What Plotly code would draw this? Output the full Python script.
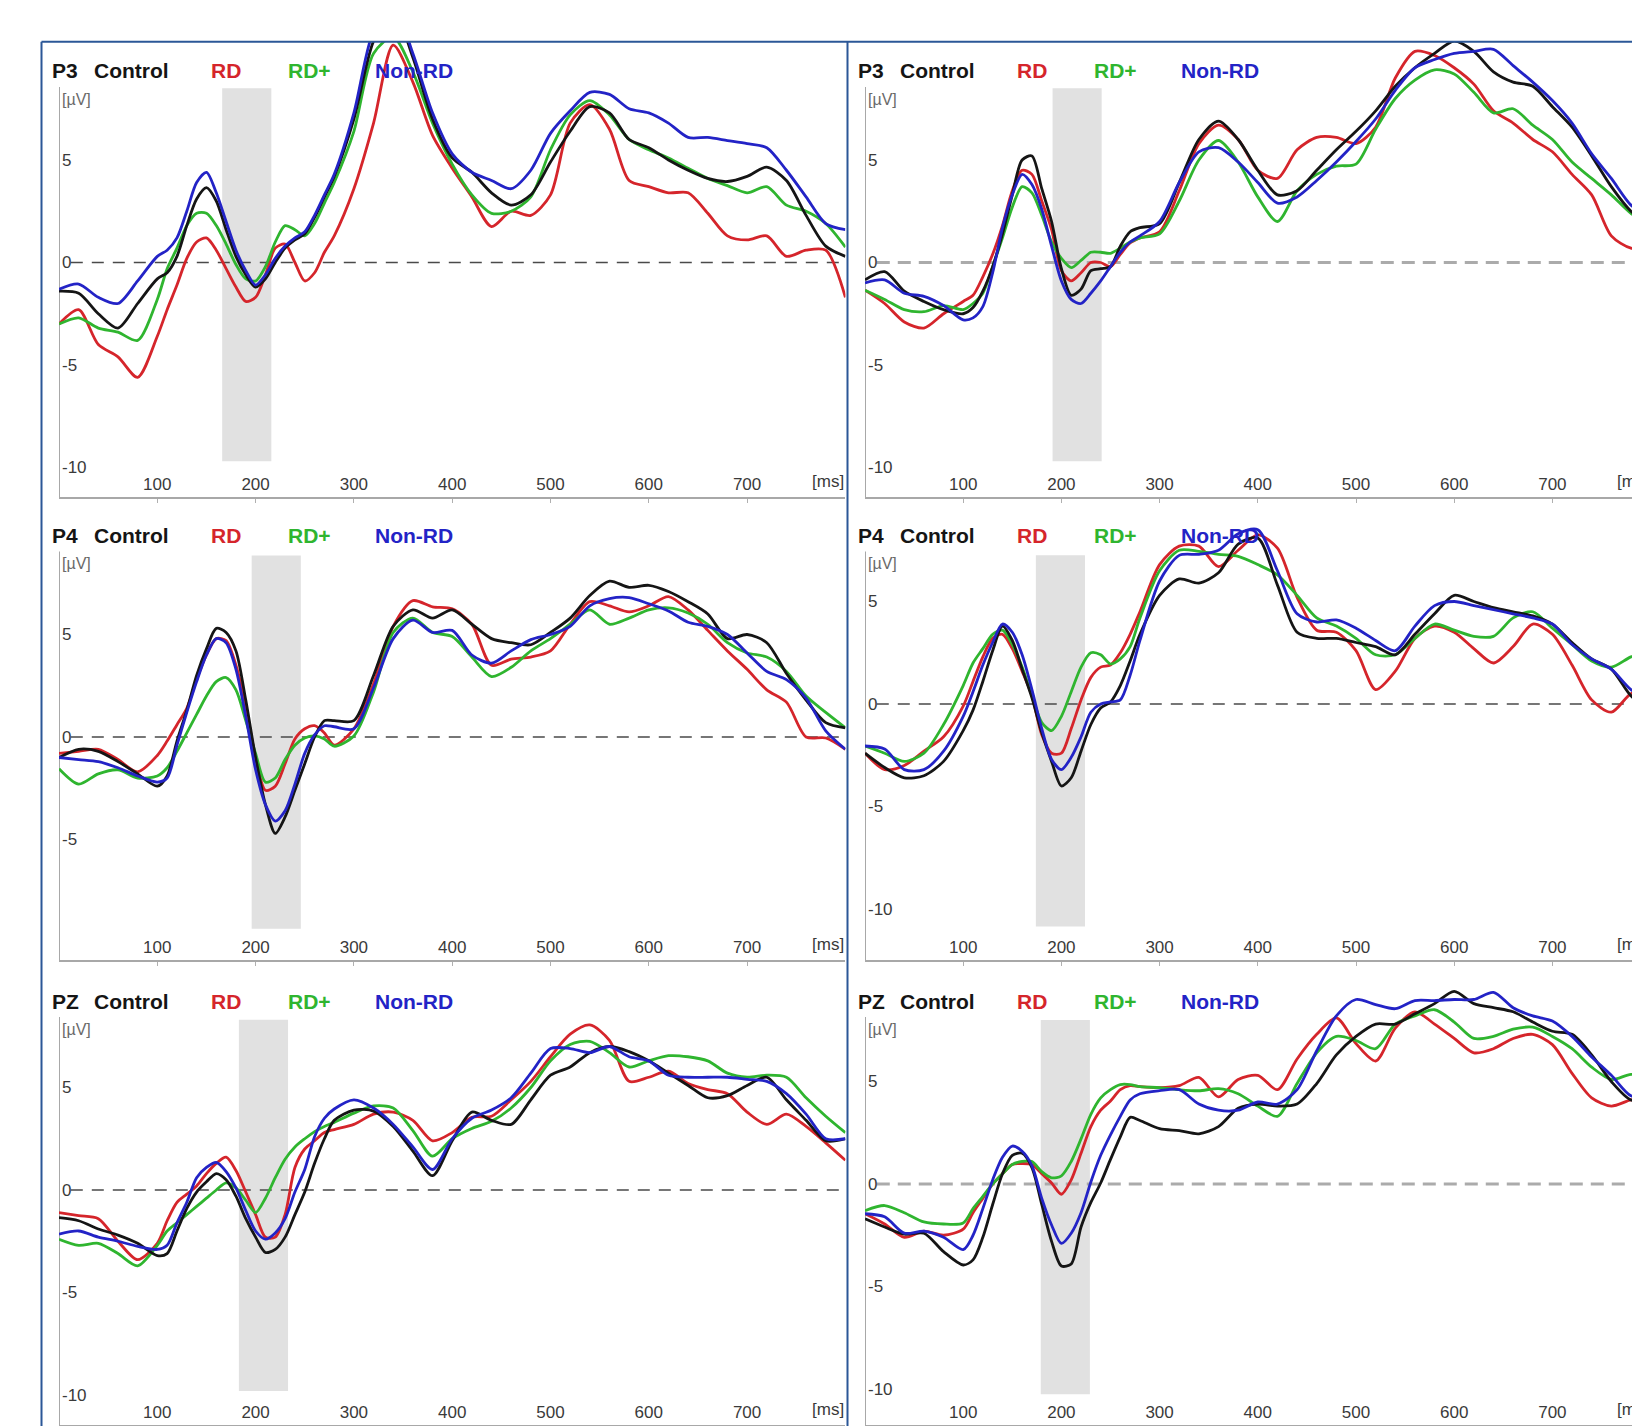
import plotly.graph_objects as go

# ---------------- data ----------------
t_ms = [0, 20, 40, 60, 80, 100, 110, 120, 130, 140, 150, 160, 170, 180, 190, 200, 210,
        220, 230, 240, 250, 260, 270, 280, 300, 320, 340, 360, 380, 400, 420, 440, 460,
        480, 500, 520, 540, 560, 580, 600, 620, 640, 660, 680, 700, 720, 740, 760, 780, 800]

groups = ["Control", "RD", "RD+", "Non-RD"]

# P3 (left column)
p3_left_control = [-1.4, -1.5, -2.5, -3.2, -2.0, -0.8, -0.5, 0.3, 1.8, 3.1, 3.65, 3.0, 1.6, 0.3, -0.6, -1.2, -0.8, 0.0, 0.7, 1.1, 1.4, 2.2, 3.2, 4.2,
                   7.0, 10.8, 12.3, 10.0, 7.0, 5.1, 4.4, 3.4, 2.8, 3.3, 4.9, 6.4, 7.6, 7.3, 6.0, 5.6, 5.0, 4.5, 4.1, 3.95, 4.2, 4.65, 4.0, 2.3, 0.8, 0.3]
p3_left_rd = [-3.0, -2.3, -4.0, -4.6, -5.6, -3.6, -2.3, -1.1, 0.2, 1.0, 1.2, 0.6, -0.3, -1.2, -1.9, -1.7, -0.6, 0.7, 0.9, 0.0, -0.9, -0.5, 0.5, 1.3,
              3.6, 6.8, 10.6, 8.8, 6.2, 4.6, 3.2, 1.75, 2.5, 2.3, 3.3, 6.8, 7.7, 6.5, 4.0, 3.7, 3.4, 3.4, 2.4, 1.3, 1.1, 1.3, 0.3, 0.6, 0.6, -1.7]
p3_left_rdplus = [-3.0, -2.7, -3.2, -3.4, -3.8, -1.8, -0.3, 0.7, 1.8, 2.4, 2.4, 1.8, 0.9, -0.1, -0.8, -0.9, -0.2, 1.0, 1.8, 1.6, 1.3, 1.9, 2.9, 3.9,
                  6.4, 10.2, 11.0, 9.3, 6.8, 4.8, 3.3, 2.4, 2.5, 3.2, 5.5, 7.2, 7.9, 7.2, 6.0, 5.5, 5.1, 4.6, 4.1, 3.75, 3.4, 3.7, 2.8, 2.5, 1.9, 0.75]
p3_left_nonrd = [-1.3, -1.05, -1.7, -2.0, -0.9, 0.3, 0.6, 1.2, 2.5, 3.9, 4.4, 3.4, 2.0, 0.6, -0.4, -1.1, -0.6, 0.2, 0.8, 1.2, 1.5, 2.3, 3.3, 4.3,
                 7.3, 11.3, 12.5, 10.2, 7.3, 5.3, 4.4, 4.0, 3.6, 4.5, 6.3, 7.4, 8.3, 8.2, 7.5, 7.3, 6.8, 6.1, 6.1, 5.95, 5.8, 5.6, 4.5, 3.2, 1.9, 1.6]

# P3 (right column)
p3_right_control = [-0.85, -0.45, -1.4, -1.9, -2.3, -2.5, -2.2, -1.4, -0.2, 1.4, 3.3, 5.0, 5.2, 3.6, 2.0, -0.3, -1.6, -1.3, -0.4, -0.3, -0.2, 0.8, 1.5, 1.7,
                    1.9, 3.9, 6.0, 6.9, 6.0, 4.5, 3.3, 3.5, 4.5, 5.5, 6.4, 7.4, 8.6, 9.5, 10.2, 10.8, 10.3, 9.3, 8.8, 8.6, 7.6, 6.6, 5.2, 3.7, 2.5, 1.8]
p3_right_rd = [-1.35, -2.0, -2.9, -3.2, -2.5, -1.9, -1.6, -0.7, 0.4, 1.8, 3.5, 4.5, 4.3, 3.0, 1.6, -0.4, -0.9, -0.5, 0.0, 0.0, -0.2, 0.4, 0.95, 1.2,
               1.5, 3.5, 5.8, 6.7, 6.0, 4.5, 4.1, 5.5, 6.1, 6.1, 5.8, 6.6, 9.0, 10.3, 10.1, 9.5, 8.7, 7.4, 6.8, 6.0, 5.4, 4.3, 3.3, 1.3, 0.7, 0.7]
p3_right_rdplus = [-1.35, -1.8, -2.3, -2.4, -2.1, -2.3, -2.0, -1.5, -0.2, 1.2, 2.7, 3.7, 3.4, 2.3, 1.0, 0.2, -0.25, 0.1, 0.5, 0.5, 0.45, 0.7, 1.0, 1.2,
                   1.4, 3.0, 5.0, 5.95, 4.9, 3.2, 2.0, 3.5, 4.3, 4.7, 4.8, 6.5, 8.0, 8.9, 9.4, 9.2, 8.3, 7.3, 7.5, 6.7, 6.0, 4.9, 4.1, 3.3, 2.4, 1.8]
p3_right_nonrd = [-1.0, -0.85, -1.5, -1.65, -2.1, -2.8, -2.7, -2.15, -0.5, 1.7, 3.3, 4.3, 3.8, 2.6, 0.8, -0.9, -1.8, -2.0, -1.5, -0.9, -0.2, 0.5, 1.0, 1.3,
                  2.0, 3.9, 5.4, 5.6, 4.9, 3.9, 2.9, 3.2, 4.0, 4.9, 5.9, 7.0, 8.4, 9.5, 9.9, 10.2, 10.3, 10.4, 9.6, 8.8, 7.9, 6.8, 5.3, 4.1, 2.8, 2.2]

# P4 (left column)
p4_left_control = [-1.0, -0.6, -0.7, -1.2, -1.8, -2.4, -1.9, -0.2, 1.3, 3.0, 4.3, 5.3, 5.1, 4.2, 1.8, -1.0, -3.3, -4.7, -3.9, -2.6, -1.3, 0.0, 0.8, 0.8,
                   0.8, 3.0, 5.4, 6.2, 5.8, 6.2, 5.5, 4.8, 4.6, 4.5, 5.1, 5.8, 6.9, 7.6, 7.3, 7.4, 7.1, 6.6, 6.0, 4.8, 5.0, 4.6, 3.1, 1.8, 0.7, 0.45]
p4_left_rd = [-0.8, -0.7, -0.6, -1.1, -1.7, -0.9, -0.2, 0.6, 1.4, 2.8, 4.0, 4.8, 4.7, 3.5, 1.5, -1.0, -2.6, -2.4, -1.3, -0.1, 0.4, 0.55, 0.2, -0.4,
              0.4, 2.6, 5.4, 6.65, 6.35, 6.25, 5.5, 3.5, 3.8, 3.9, 4.2, 5.5, 6.6, 6.4, 6.1, 6.4, 6.85, 6.2, 5.2, 4.2, 3.3, 2.3, 1.7, 0.0, -0.05, -0.6]
p4_left_rdplus = [-1.55, -2.3, -1.8, -1.6, -2.0, -1.9, -1.5, -0.7, 0.2, 1.1, 2.0, 2.7, 2.9, 2.3, 0.8, -0.8, -2.2, -2.0, -1.1, -0.4, -0.05, 0.05, -0.1, -0.45,
                  0.05, 2.2, 5.1, 5.8, 5.1, 4.9, 3.9, 2.95, 3.4, 4.2, 4.8, 5.5, 6.2, 5.5, 5.8, 6.2, 6.3, 6.05, 5.5, 4.6, 4.1, 3.9, 3.2, 2.0, 1.2, 0.45]
p4_left_nonrd = [-1.0, -1.1, -1.2, -1.5, -1.9, -2.2, -2.0, -0.4, 1.2, 2.7, 4.0, 4.8, 4.6, 3.3, 1.0, -1.6, -3.3, -4.1, -3.6, -2.3, -0.8, 0.1, 0.55, 0.5,
                 0.4, 2.4, 4.8, 5.7, 5.1, 5.2, 4.0, 3.6, 4.2, 4.75, 5.0, 5.4, 6.4, 6.75, 6.8, 6.5, 6.15, 5.6, 5.4, 5.0, 4.1, 3.2, 2.8, 1.9, 0.3, -0.6]

# P4 (right column)
p4_right_control = [-2.4, -3.1, -3.6, -3.5, -2.8, -1.3, -0.3, 1.1, 2.6, 3.8, 3.1, 1.7, 0.3, -1.4, -2.8, -4.0, -3.6, -2.3, -1.0, -0.2, 0.1, 0.9, 2.1, 3.4,
                    5.3, 6.1, 5.9, 6.4, 7.8, 8.1, 5.8, 3.5, 3.2, 3.2, 3.0, 2.8, 2.4, 3.4, 4.4, 5.3, 5.0, 4.7, 4.5, 4.3, 3.9, 3.0, 2.2, 1.7, 0.4, -0.3]
p4_right_rd = [-2.4, -3.2, -3.0, -2.3, -1.6, -0.1, 1.1, 2.3, 3.2, 3.4, 2.7, 1.6, 0.4, -1.5, -2.4, -2.4, -1.2, 0.2, 1.3, 1.8, 1.9, 2.5, 3.4, 4.5,
               6.8, 7.7, 7.7, 6.7, 7.5, 8.25, 7.6, 5.2, 3.6, 3.5, 2.6, 0.7, 1.6, 3.2, 3.8, 3.5, 2.7, 2.0, 2.8, 3.9, 3.4, 1.9, 0.2, -0.4, 0.5, 0.7]
p4_right_rdplus = [-2.05, -2.4, -2.8, -2.4, -1.0, 0.9, 2.0, 2.7, 3.4, 3.6, 2.9, 1.8, 0.4, -0.9, -1.3, -0.6, 0.6, 1.8, 2.5, 2.4, 1.95, 2.2, 2.8, 4.2,
                   6.5, 7.5, 7.45, 7.3, 7.2, 6.8, 6.3, 5.3, 4.2, 3.8, 3.2, 2.4, 2.4, 3.2, 3.9, 3.6, 3.3, 3.3, 4.2, 4.5, 3.7, 2.9, 2.1, 1.8, 2.3, 2.6]
p4_right_nonrd = [-2.05, -2.2, -3.2, -3.2, -2.3, -0.6, 0.6, 1.9, 3.0, 3.9, 3.5, 2.4, 0.7, -1.2, -2.7, -3.2, -2.6, -1.6, -0.4, 0.0, 0.1, 0.2, 1.4, 3.1,
                  6.0, 7.25, 7.3, 7.5, 8.3, 8.5, 6.5, 4.4, 4.0, 4.1, 3.7, 3.1, 2.6, 3.8, 4.8, 5.0, 4.8, 4.6, 4.4, 4.2, 3.9, 2.9, 2.2, 1.7, 0.7, 0.2]

# PZ (left column)
pz_left_control = [-1.35, -1.5, -1.9, -2.2, -2.6, -3.2, -3.1, -2.0, -0.9, -0.1, 0.4, 0.8, 0.5, -0.3, -1.4, -2.3, -3.05, -2.9, -2.3, -1.2, -0.1, 1.3, 2.5, 3.4,
                   3.9, 3.85, 3.1, 1.9, 0.7, 2.4, 3.8, 3.4, 3.2, 4.4, 5.6, 6.0, 6.7, 7.0, 6.75, 6.3, 5.7, 5.1, 4.5, 4.6, 5.1, 5.5, 4.4, 3.4, 2.4, 2.5]
pz_left_rd = [-1.1, -1.25, -1.4, -2.5, -3.4, -2.6, -1.5, -0.6, -0.2, 0.2, 0.8, 1.3, 1.6, 0.95, -0.1, -1.2, -2.3, -2.3, -1.2, 1.1, 2.0, 2.4, 2.8, 2.95,
              3.2, 3.7, 3.8, 3.4, 2.4, 2.8, 3.55, 3.6, 4.4, 5.3, 6.5, 7.6, 8.05, 7.3, 5.3, 5.5, 5.8, 5.2, 4.9, 4.7, 3.8, 3.2, 3.7, 3.1, 2.3, 1.45]
pz_left_rdplus = [-2.4, -2.7, -2.6, -3.1, -3.7, -2.7, -2.0, -1.6, -1.2, -0.8, -0.4, 0.0, 0.35, 0.1, -0.5, -1.1, -0.4, 0.6, 1.5, 2.1, 2.5, 2.85, 3.1, 3.3,
                  3.75, 4.1, 4.0, 2.9, 1.65, 2.5, 3.0, 3.35, 4.0, 5.0, 6.3, 7.1, 7.25, 6.7, 6.0, 6.3, 6.55, 6.5, 6.3, 5.7, 5.5, 5.6, 5.5, 4.5, 3.6, 2.8]
pz_left_nonrd = [-2.15, -2.0, -2.3, -2.5, -2.75, -2.9, -2.7, -1.6, -0.6, 0.6, 1.1, 1.35, 0.9, 0.1, -1.0, -2.0, -2.4, -2.1, -1.4, -0.1, 1.0, 2.6, 3.5, 3.95,
                 4.4, 4.0, 3.2, 2.1, 1.0, 2.5, 3.5, 3.9, 4.5, 5.7, 6.9, 6.9, 6.7, 7.0, 6.5, 6.3, 5.6, 5.5, 5.5, 5.5, 5.4, 5.3, 4.7, 3.7, 2.5, 2.5]

# PZ (right column)
pz_right_control = [-1.7, -2.1, -2.45, -2.4, -3.3, -3.95, -3.7, -2.6, -1.0, 0.5, 1.4, 1.5, 0.8, -1.0, -2.8, -4.0, -3.9, -2.1, -0.9, 0.05, 1.2, 2.3, 3.25, 3.1,
                    2.7, 2.6, 2.45, 2.8, 3.7, 3.9, 3.8, 3.9, 4.9, 6.3, 7.2, 7.8, 7.8, 8.3, 8.8, 9.4, 8.8, 8.6, 8.4, 7.9, 7.45, 7.3, 6.3, 5.0, 4.1, 4.1]
pz_right_rd = [-1.45, -1.95, -2.6, -2.3, -2.5, -2.2, -1.4, -0.7, 0.0, 0.5, 0.95, 1.0, 0.95, 0.5, 0.05, -0.5, 0.2, 1.5, 2.8, 3.6, 4.05, 4.6, 4.8, 4.75,
               4.7, 4.8, 5.2, 4.25, 5.1, 5.3, 4.6, 6.1, 7.3, 8.1, 6.85, 6.0, 7.6, 8.4, 7.8, 7.1, 6.4, 6.6, 7.1, 7.3, 6.8, 5.4, 4.2, 3.8, 4.1, 4.2]
pz_right_rdplus = [-1.3, -1.05, -1.4, -1.85, -1.95, -1.9, -1.2, -0.6, 0.0, 0.5, 0.95, 1.1, 1.1, 0.6, 0.3, 0.4, 1.1, 2.2, 3.4, 4.2, 4.6, 4.85, 4.85, 4.75,
                   4.7, 4.6, 4.55, 4.65, 4.4, 3.8, 3.3, 4.9, 6.4, 7.2, 7.0, 6.6, 7.8, 8.2, 8.5, 7.9, 7.1, 7.2, 7.55, 7.65, 7.2, 6.6, 5.7, 5.1, 5.35, 5.2]
pz_right_nonrd = [-1.45, -1.6, -2.4, -2.3, -2.6, -3.2, -2.5, -1.2, 0.2, 1.3, 1.85, 1.6, 0.9, -0.7, -2.0, -2.9, -2.4, -1.4, 0.1, 1.4, 2.4, 3.3, 4.1, 4.4,
                  4.55, 4.6, 3.9, 3.6, 3.6, 4.0, 3.9, 4.6, 6.5, 8.2, 9.0, 8.75, 8.55, 8.95, 8.95, 9.0, 9.0, 9.35, 8.6, 8.2, 7.95, 7.2, 6.2, 5.3, 4.3, 4.2]

# shaded analysis windows [ms] and their vertical extent [µV]
window_start = [166, 191, 196, 174, 183, 179]
window_end = [216, 241, 246, 224, 233, 229]
window_top = [8.5, 8.5, 8.85, 7.25, 8.3, 8.0]
window_bottom = [-9.7, -9.7, -9.35, -10.85, -9.8, -10.25]

electrodes = ["P3", "P3", "P4", "P4", "PZ", "PZ"]
x_ticks = [100, 200, 300, 400, 500, 600, 700]
y_ticks = [-10, -5, 0, 5]
y_tick_text = ["-10", "-5", "0", "5"]

series = [
    [p3_left_control, p3_left_rd, p3_left_rdplus, p3_left_nonrd],
    [p3_right_control, p3_right_rd, p3_right_rdplus, p3_right_nonrd],
    [p4_left_control, p4_left_rd, p4_left_rdplus, p4_left_nonrd],
    [p4_right_control, p4_right_rd, p4_right_rdplus, p4_right_nonrd],
    [pz_left_control, pz_left_rd, pz_left_rdplus, pz_left_nonrd],
    [pz_right_control, pz_right_rd, pz_right_rdplus, pz_right_nonrd],
]

# ---------------- layout geometry (page pixels) ----------------
W, H = 1640, 1426
OFF = 8          # browser body margin offsets the figure on the page
PX_PER_UV = 20.5
col_x0 = [59, 865]
col_px_per_ms = [0.983, 0.982]
col_x1 = [59 + 0.983 * 800, W + OFF]
# per panel: zero-line px, domain top px, domain bottom px, title y px
panel_geom = [
    (262.5, 42, 497, 71),
    (262.5, 42, 497, 71),
    (737, 510, 960, 535.5),
    (704, 510, 960, 535.5),
    (1190, 975, 1425, 1001),
    (1184, 975, 1425, 1001),
]
title_dx = [50, 92, 209, 285.5, 373]
col_shift = [0, 806]

colors = ["#151515", "#d5252b", "#2fb52f", "#2323c6"]
draw_order = [1, 2, 0, 3]

FONT = "Liberation Sans, Arial, sans-serif"


def px_x(p):
    return min(1.0, max(0.0, (p - OFF) / W))


def px_y(p):
    return min(1.0, max(0.0, 1 - (p - OFF) / H))


fig = go.Figure()
shapes = []
annotations = []

for i in range(6):
    col = i % 2
    zero_px, top_px, bot_px, title_px = panel_geom[i]
    ax = "" if i == 0 else str(i + 1)
    xref, yref = "x" + ax, "y" + ax
    xmax = (col_x1[col] - col_x0[col]) / col_px_per_ms[col]
    ytop = (zero_px - top_px) / PX_PER_UV
    ybot = (zero_px - bot_px) / PX_PER_UV

    fig.update_layout(**{
        "xaxis" + ax: dict(
            domain=[px_x(col_x0[col]), px_x(col_x1[col])],
            range=[0, xmax], anchor=yref, showgrid=False, zeroline=False,
            tickmode="array", tickvals=x_ticks, ticks="outside", ticklen=4,
            tickcolor="#b0b0b0", ticklabelposition="inside", ticklabelstandoff=4,
            tickfont=dict(family=FONT, size=17, color="#3a3a3a"),
            showline=True, linecolor="#a8a8a8", linewidth=2, fixedrange=True,
        ),
        "yaxis" + ax: dict(
            domain=[px_y(bot_px), px_y(top_px)],
            range=[ybot, ytop], anchor=xref, showgrid=False, zeroline=False,
            tickmode="array", tickvals=y_ticks, ticktext=y_tick_text,
            ticks="", ticklabelposition="inside",
            tickfont=dict(family=FONT, size=17, color="#3a3a3a"),
            showline=False, fixedrange=True,
        ),
    })

    # shaded window
    shapes.append(dict(type="rect", xref=xref, yref=yref,
                       x0=window_start[i], x1=window_end[i],
                       y0=window_bottom[i], y1=window_top[i],
                       fillcolor="#e1e1e1", line=dict(width=0), layer="below"))
    # y axis line
    shapes.append(dict(type="line", xref=xref, yref=yref, x0=0, x1=0,
                       y0=ybot, y1=(zero_px - (title_px + 16)) / PX_PER_UV,
                       line=dict(color="#a8a8a8", width=2), layer="below"))
    # zero line
    light = (i in (1, 5))
    shapes.append(dict(type="line", xref=xref, yref=yref, x0=12, x1=xmax, y0=0, y1=0,
                       line=dict(color="#ababab" if light else "#4a4a4a",
                                 width=3 if light else 1.4,
                                 dash="13px,8px" if light else "12px,9px"),
                       layer="below"))

    # traces
    for g in draw_order:
        fig.add_trace(go.Scatter(
            x=t_ms, y=series[i][g], mode="lines", name=groups[g],
            xaxis=xref, yaxis=yref, showlegend=False,
            line=dict(color=colors[g], width=2.8, shape="spline", smoothing=0.8),
            hoverinfo="skip"))

    # title: electrode + group names
    labels = [electrodes[i], "Control", "RD", "RD+", "Non-RD"]
    label_colors = ["#151515", "#151515", colors[1], colors[2], colors[3]]
    for k in range(5):
        annotations.append(dict(
            text="<b>" + labels[k] + "</b>", xref="paper", yref="paper",
            x=px_x(title_dx[k] + col_shift[col]), y=px_y(title_px),
            xanchor="left", yanchor="middle", showarrow=False,
            font=dict(family=FONT, size=21, color=label_colors[k])))
    # unit labels
    annotations.append(dict(
        text="[µV]", xref="paper", yref="paper",
        x=px_x(col_x0[col] + 1), y=px_y(title_px + 28),
        xanchor="left", yanchor="middle", showarrow=False,
        font=dict(family=FONT, size=16, color="#6a6a6a")))
    annotations.append(dict(
        text="[ms]", xref=xref, yref="paper",
        x=764, y=px_y(bot_px - 16),
        xanchor="left", yanchor="middle", showarrow=False,
        font=dict(family=FONT, size=17, color="#3a3a3a")))

# blue frames
frame = dict(color="#2b5797", width=2)
top_frame = 41.8
shapes += [
    dict(type="line", xref="paper", yref="paper", x0=px_x(41.5), x1=1.0,
         y0=px_y(top_frame), y1=px_y(top_frame), line=frame),
    dict(type="line", xref="paper", yref="paper", x0=px_x(41.5), x1=px_x(41.5),
         y0=px_y(top_frame), y1=0, line=frame),
    dict(type="line", xref="paper", yref="paper", x0=px_x(847.5), x1=px_x(847.5),
         y0=px_y(top_frame), y1=0, line=frame),
]

fig.update_layout(
    width=W, height=H,
    margin=dict(l=0, r=0, t=0, b=0),
    paper_bgcolor="white", plot_bgcolor="rgba(0,0,0,0)",
    shapes=shapes, annotations=annotations,
    showlegend=False,
)

fig.write_html("out.html")
